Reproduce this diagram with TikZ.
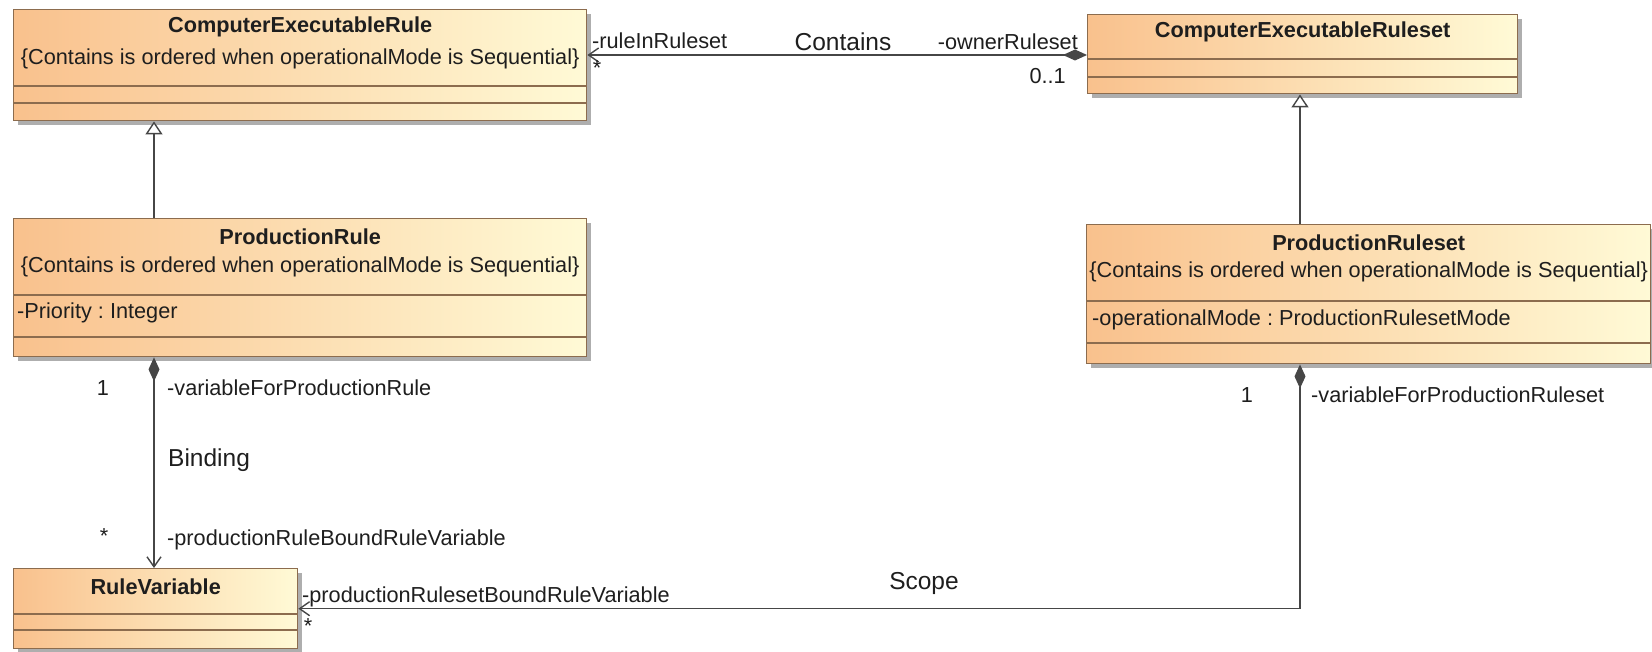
\documentclass[tikz,border=0pt]{standalone}
\usepackage{fontspec}
\setmainfont{Liberation Sans}
\usetikzlibrary{arrows.meta,shadows}
\definecolor{clsleft}{RGB}{249,193,141}
\definecolor{clsright}{RGB}{255,250,214}
\definecolor{clsline}{RGB}{140,108,78}
\definecolor{txt}{RGB}{30,30,30}
\definecolor{wire}{RGB}{70,70,70}
\frenchspacing

\begin{document}
\begin{tikzpicture}[x=1pt, y=-1pt, every node/.style={font=\fontsize{21.7}{26}\selectfont, text=txt, inner sep=0pt},
	umlclass/.style={draw=clsline, line width=1.4pt, left color=clsleft, right color=clsright, anchor=north west,
		drop shadow={shadow xshift=4pt, shadow yshift=-4pt, fill=black!45, opacity=.7}},
	sep/.style={draw=clsline, line width=1.4pt},
	title/.style={font=\fontsize{21.7}{26}\selectfont\bfseries},
	assoc/.style={font=\fontsize{24.5}{28}\selectfont},
	wire/.style={draw=wire, line width=1.4pt},
	gen/.style={wire, -{Triangle[open, length=13pt, width=17pt, fill=white]}},
	comp/.style={wire, {Diamond[length=24pt, width=11pt, fill=wire]}-{Straight Barb[length=10pt, width=14pt]}}]
	\useasboundingbox (0,0) rectangle (1652,652);
	% classes
	\node[umlclass, minimum width=573pt, minimum height=111pt] (cer) at (13,9) {};
	\node[title] (cerName) at (cer.north |- 0,27) {ComputerExecutableRule};
	\node (cerNote) at (cer.north |- 0,59) {\{Contains is ordered when operationalMode is Sequential\}};
	\draw[sep] (cer.west |- 0,86) -- (cer.east |- 0,86) (cer.west |- 0,103) -- (cer.east |- 0,103);
	\node[umlclass, minimum width=430pt, minimum height=79pt] (cerset) at (1087,14) {};
	\node[title] (cersetName) at (cerset.north |- 0,32) {ComputerExecutableRuleset};
	\draw[sep] (cerset.west |- 0,59) -- (cerset.east |- 0,59) (cerset.west |- 0,77) -- (cerset.east |- 0,77);
	\node[umlclass, minimum width=573pt, minimum height=138pt] (pr) at (13,218) {};
	\node[title] (prName) at (pr.north |- 0,237) {ProductionRule};
	\node (prNote) at (pr.north |- 0,267) {\{Contains is ordered when operationalMode is Sequential\}};
	\node[anchor=west] (prAttr) at (17,313) {-Priority : Integer};
	\draw[sep] (pr.west |- 0,295) -- (pr.east |- 0,295) (pr.west |- 0,337) -- (pr.east |- 0,337);
	\node[umlclass, minimum width=564pt, minimum height=139pt] (prset) at (1086,224) {};
	\node[title] (prsetName) at (prset.north |- 0,243) {ProductionRuleset};
	\node (prsetNote) at (prset.north |- 0,272) {\{Contains is ordered when operationalMode is Sequential\}};
	\node[anchor=west] (prsetAttr) at (1092,320) {-operationalMode : ProductionRulesetMode};
	\draw[sep] (prset.west |- 0,301) -- (prset.east |- 0,301) (prset.west |- 0,343) -- (prset.east |- 0,343);
	\node[umlclass, minimum width=284pt, minimum height=80pt] (rv) at (13,568) {};
	\node[title] (rvName) at (rv.north |- 0,587) {RuleVariable};
	\draw[sep] (rv.west |- 0,614) -- (rv.east |- 0,614) (rv.west |- 0,630) -- (rv.east |- 0,630);
	% connectors
	\coordinate (leftX) at (154,0);
	\coordinate (rightX) at (1300,0);
	\draw[gen] (pr.north -| leftX) -- (cer.south -| leftX);
	\draw[gen] (prset.north -| rightX) -- (cerset.south -| rightX);
	\draw[comp] (cerset.west |- 0,55) -- (cer.east |- 0,55);
	\draw[comp] (pr.south -| leftX) -- (rv.north -| leftX);
	\draw[comp] (prset.south -| rightX) |- (rv.east);
	% association labels
	\node[anchor=west] (inRole) at (592,41) {-ruleInRuleset};
	\node (inMany) at (597,68) {*};
	\node[assoc] (containsName) at (843,42) {Contains};
	\node[anchor=east] (ownerRole) at (1078,42) {-ownerRuleset};
	\node[anchor=east] (ownerMult) at (1066,76) {0..1};
	\node (bindOne) at (103,388) {1};
	\node[anchor=west] (bindOwner) at (167,388) {-variableForProductionRule};
	\node[assoc, anchor=west] (bindName) at (168,460) {Binding};
	\node (bindMany) at (104,536) {*};
	\node[anchor=west] (bindRole) at (167,540) {-productionRuleBoundRuleVariable};
	\node[anchor=west] (scopeRole) at (302,597) {-productionRulesetBoundRuleVariable};
	\node (scopeMany) at (308,626) {*};
	\node[assoc] (scopeName) at (924,583) {Scope};
	\node (scopeOne) at (1247,395) {1};
	\node[anchor=west] (scopeOwner) at (1311,395) {-variableForProductionRuleset};
\end{tikzpicture}
\end{document}
